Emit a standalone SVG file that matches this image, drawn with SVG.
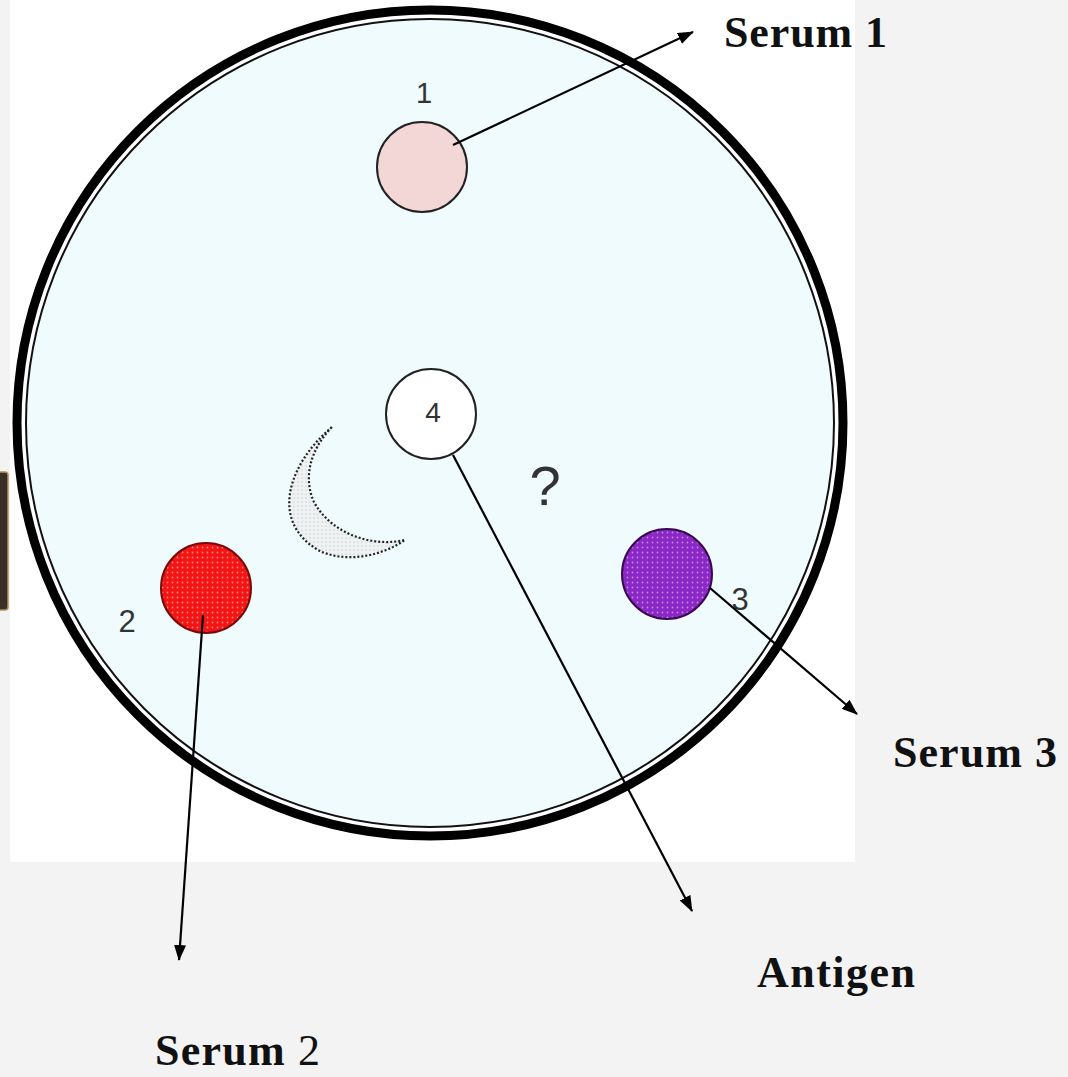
<svg xmlns="http://www.w3.org/2000/svg" width="1068" height="1077" viewBox="0 0 1068 1077">
  <defs>
    <style>
      .lbl { font-family: "Liberation Serif", "Times New Roman", serif; font-weight: bold; fill: #111; font-size: 44px; }
      .num { font-family: "Liberation Sans", Arial, sans-serif; fill: #333; }
      .well { stroke: #222; stroke-width: 2; }
      .conn { stroke: #000; stroke-width: 2.2; fill: none; marker-end: url(#ah); }
    </style>
    <marker id="ah" viewBox="0 0 16 12" refX="15" refY="6" markerWidth="16" markerHeight="12" markerUnits="userSpaceOnUse" orient="auto">
      <path d="M0,0 L16,6 L0,12 z" fill="#000"/>
    </marker>
    <pattern id="dotsRed" width="5" height="5" patternUnits="userSpaceOnUse">
      <rect width="5" height="5" fill="#f41414"/>
      <circle cx="2.5" cy="2.5" r="0.9" fill="#ff8a8a"/>
    </pattern>
    <pattern id="dotsPurple" width="5" height="5" patternUnits="userSpaceOnUse">
      <rect width="5" height="5" fill="#8a27c6"/>
      <circle cx="2.5" cy="2.5" r="0.9" fill="#c58ae8"/>
    </pattern>
    <pattern id="dotsGray" width="4" height="4" patternUnits="userSpaceOnUse">
      <rect width="4" height="4" fill="#eef2f2"/>
      <circle cx="2" cy="2" r="0.6" fill="#b0b4b4"/>
    </pattern>
  </defs>

  <rect width="1068" height="1077" fill="#f3f3f3"/>
  <rect x="10" y="0" width="845" height="862" fill="#ffffff"/>
  <rect x="-3" y="472" width="11" height="138" rx="3" fill="#3a3027" stroke="#b0925e" stroke-width="1.5"/>

  <g id="plate">
    <circle cx="430" cy="423" r="403" fill="#effbfc"/>
    <circle cx="430" cy="423" r="413" fill="none" stroke="#000" stroke-width="9"/>
    <circle cx="430" cy="423" r="404" fill="none" stroke="#111" stroke-width="2"/>
  </g>

  <g id="precipitin">
    <path d="M332,427 C290,462 268,520 318,550 C345,564 382,556 405,540 C370,548 330,532 314,502 C304,480 308,452 332,427 Z" fill="url(#dotsGray)" stroke="#222" stroke-width="2.2" stroke-dasharray="2 2"/>
  </g>

  <g id="well1">
    <circle class="well" cx="422" cy="167" r="45" fill="#f3d6d6"/>
    <text class="num" x="424" y="103" font-size="29" text-anchor="middle">1</text>
  </g>
  <g id="well4">
    <circle class="well" cx="431" cy="414" r="45" fill="#ffffff"/>
    <text class="num" x="433" y="422" font-size="28" text-anchor="middle">4</text>
  </g>
  <g id="well2">
    <circle cx="206" cy="588" r="45" fill="url(#dotsRed)" stroke="#7a0a0a" stroke-width="2"/>
    <text class="num" x="127" y="632" font-size="31" text-anchor="middle">2</text>
  </g>
  <g id="well3">
    <circle cx="667" cy="574" r="45" fill="url(#dotsPurple)" stroke="#3a0a50" stroke-width="2"/>
    <text class="num" x="740" y="610" font-size="31" text-anchor="middle">3</text>
  </g>
  <g id="unknown">
    <text class="num" x="545" y="505" font-size="56" text-anchor="middle">?</text>
  </g>

  <g id="connectors">
    <line class="conn" x1="453" y1="145" x2="693" y2="32"/>
    <line class="conn" x1="203" y1="615" x2="179" y2="960"/>
    <line class="conn" x1="453" y1="455" x2="692" y2="911"/>
    <line class="conn" x1="710" y1="588" x2="857" y2="714"/>
  </g>

  <g id="labels">
    <text class="lbl" x="724" y="47" textLength="163" lengthAdjust="spacing">Serum 1</text>
    <text class="lbl" x="893" y="767" textLength="164" lengthAdjust="spacing">Serum 3</text>
    <text class="lbl" x="757" y="987" textLength="158" lengthAdjust="spacing">Antigen</text>
    <text class="lbl" x="155" y="1065" textLength="165" lengthAdjust="spacing">Serum <tspan font-weight="normal">2</tspan></text>
  </g>
</svg>
